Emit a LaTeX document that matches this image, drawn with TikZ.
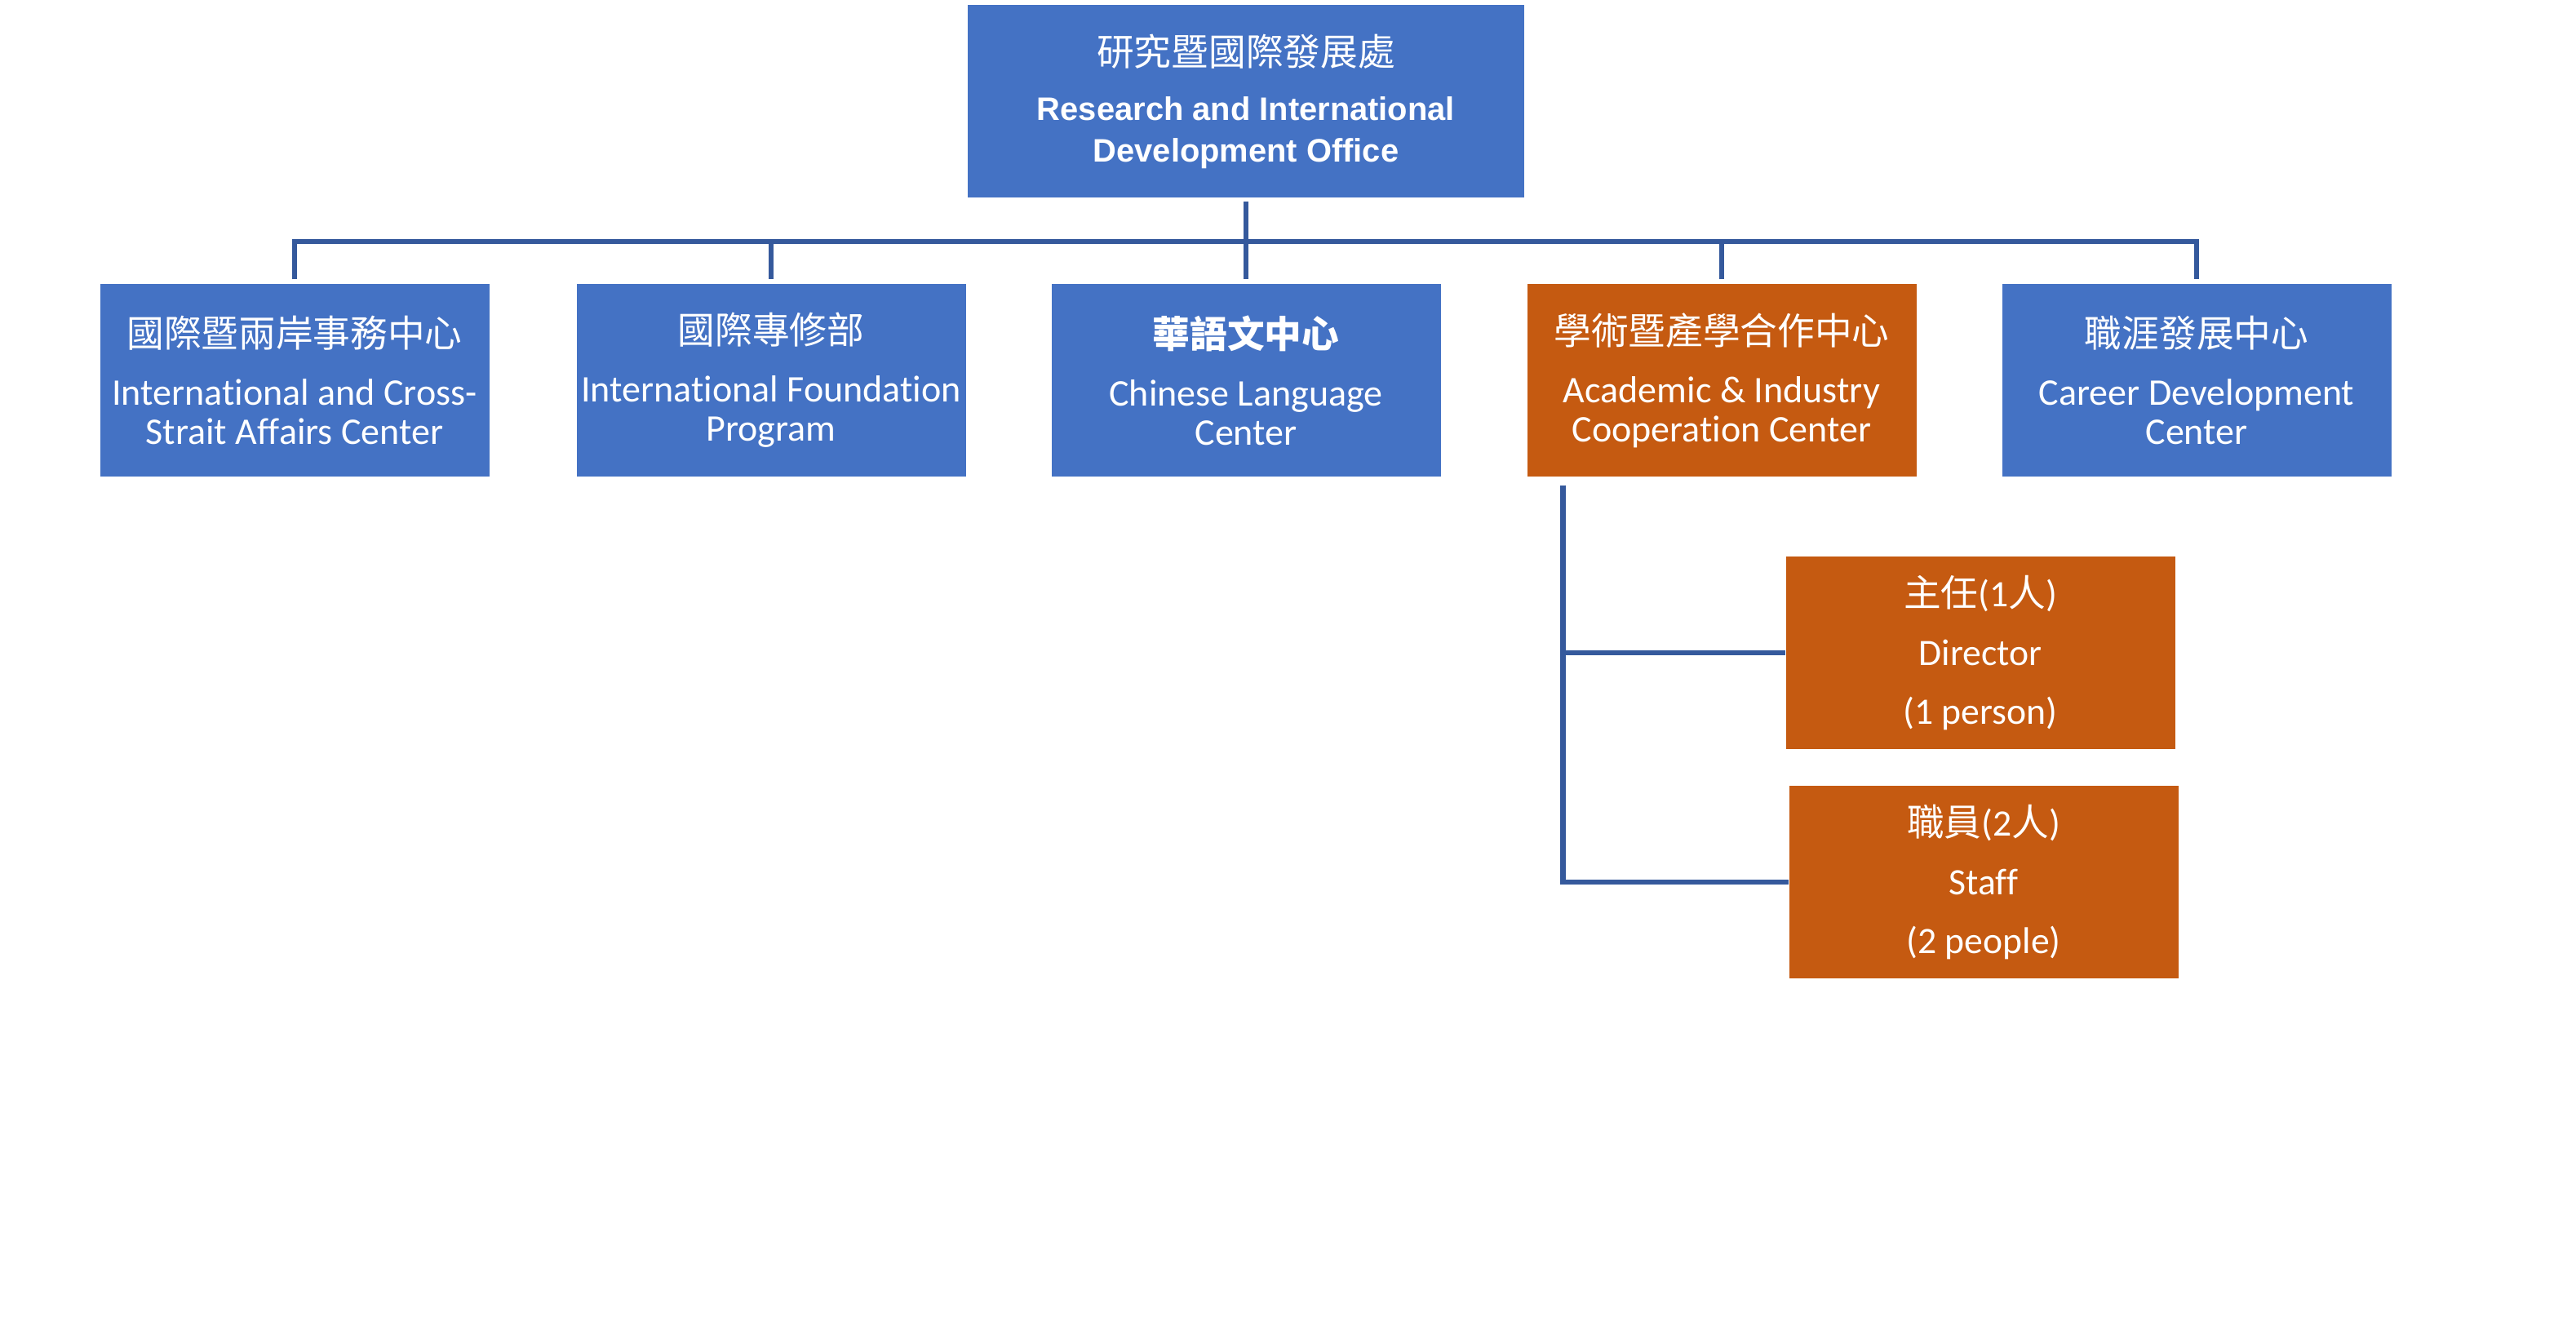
\documentclass[tikz,border=0pt]{standalone}
\usepackage{fontspec}
\setmainfont{Carlito}[Ligatures=NoCommon]
\newfontfamily\cjk{Noto Sans CJK TC}
\newfontfamily\headfont{Liberation Sans}
\usetikzlibrary{positioning,calc}
\definecolor{unitblue}{HTML}{4472C4}
\definecolor{unitorange}{HTML}{C55A11}
\definecolor{linkblue}{HTML}{35599C}
\newcommand\zh[1]{{\cjk\mdseries\fontsize{13}{14}\selectfont #1}}

\begin{document}
\begin{tikzpicture}[
  unit/.style={fill=unitblue,text=white,minimum width=4.77cm,minimum height=2.36cm,
    inner sep=0pt,align=center,font=\fontsize{13.1}{13.7}\selectfont},
  acad/.style={unit,fill=unitorange},
  staffbox/.style={acad,font=\fontsize{13}{20.5}\selectfont},
  link/.style={draw=linkblue,line width=1.9pt}]
 \useasboundingbox (0,0) rectangle (31.57,-16.14);
 \node[unit,minimum width=6.82cm,font=\headfont\bfseries\fontsize{11.35}{14.3}\selectfont] (office) at (15.27,-1.24)
   {\zh{研究暨國際發展處}\\[5pt] Research and International\\ Development Office};
 \node[unit] (cross) at (3.61,-4.66)
   {\zh{國際暨兩岸事務中心}\\[6.5pt] International and Cross-\\ Strait Affairs Center};
 \node[unit] (found) at (9.45,-4.66)
   {\zh{國際專修部}\\[6.5pt] International Foundation\\ Program};
 \node[unit] (chinese) at (15.27,-4.66)
   {\zh{\bfseries 華語文中心}\\[6.5pt] Chinese Language\\ Center};
 \node[acad] (industry) at (21.10,-4.66)
   {\zh{學術暨產學合作中心}\\[6.5pt] Academic \& Industry\\ Cooperation Center};
 \node[unit] (career) at (26.92,-4.66)
   {\zh{職涯發展中心}\\[6.5pt] Career Development\\ Center};
 \node[staffbox] (director) at (24.27,-8.00)
   {{\cjk 主任}(1{\cjk 人})\\ Director\\ (1 person)};
 \node[staffbox] (staff) at (24.31,-10.81)
   {{\cjk 職員}(2{\cjk 人})\\ Staff\\ (2 people)};
 \coordinate (bus) at (15.27,-2.96);
 \coordinate (stem) at ($(industry.south west)+(0.45,-0.1)$);
 \draw[link,shorten <=0.04cm,shorten >=0.05cm] (office.south) -- (chinese.north);
 \draw[link,shorten <=0.05cm,shorten >=0.05cm] (cross.north) |- (bus) -| (career.north);
 \draw[link,shorten <=0.05cm] (found.north) -- (found.north |- bus);
 \draw[link,shorten <=0.05cm] (industry.north) -- (industry.north |- bus);
 \draw[link] (stem) |- (director.west);
 \draw[link] (stem) |- (staff.west);
\end{tikzpicture}
\end{document}
